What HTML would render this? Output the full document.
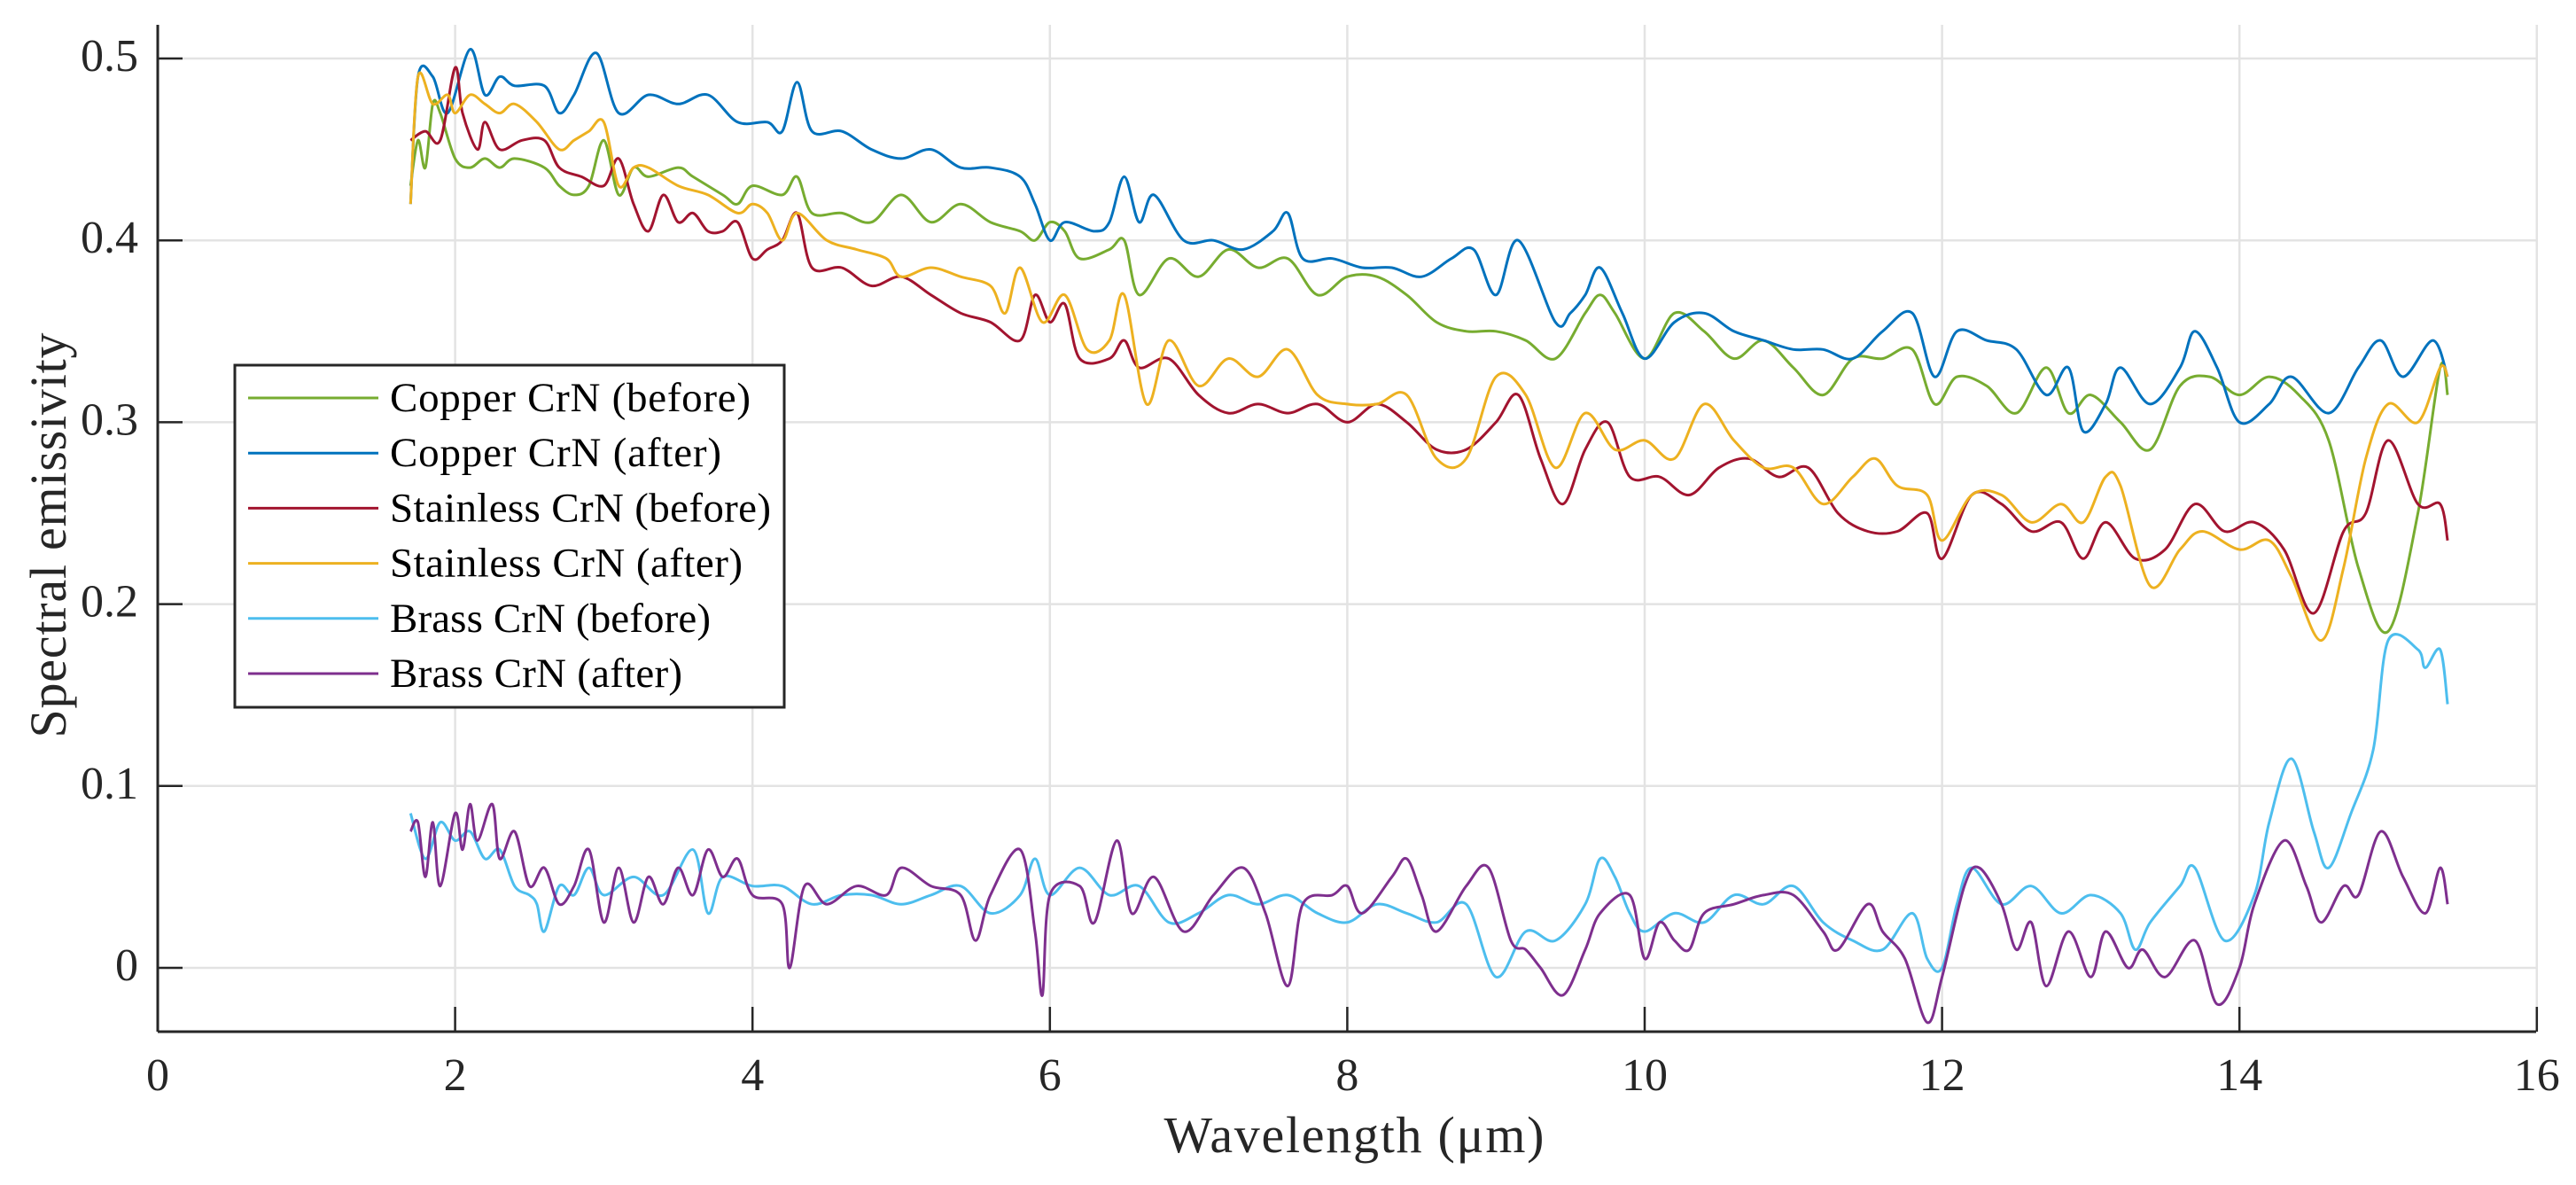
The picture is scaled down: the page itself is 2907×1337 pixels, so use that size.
<!DOCTYPE html>
<html><head><meta charset="utf-8">
<style>
html,body{margin:0;padding:0;background:#fff;}
svg{display:block;font-family:"Liberation Serif",serif;}
</style></head>
<body>
<svg id="chart" width="2907" height="1337" viewBox="0 0 2907 1337" xmlns="http://www.w3.org/2000/svg">
<rect width="2907" height="1337" fill="#fff"/>
<g id="grid"></g>
<g id="series"></g>
<g id="axes"></g>
<text x="1528" y="1300" font-size="58" text-anchor="middle" textLength="429" fill="#262626">Wavelength (μm)</text>
<text transform="translate(74,604) rotate(-90)" font-size="58" text-anchor="middle" textLength="457" fill="#262626">Spectral emissivity</text>
<g id="legend"></g>
</svg>
<script>
const xTicks=[0,2,4,6,8,10,12,14,16];
const yTicks=[0,0.1,0.2,0.3,0.4,0.5];
const yTickLabels=["0","0.1","0.2","0.3","0.4","0.5"];
const seriesNames=["Copper CrN (before)","Copper CrN (after)","Stainless CrN (before)","Stainless CrN (after)","Brass CrN (before)","Brass CrN (after)"];
const seriesColors=["#77AC30","#0072BD","#A2142F","#EDB120","#4DBEEE","#7E2F8E"];

const cuBeforeX=[1.7,1.75,1.8,1.85,1.9,2.0,2.1,2.2,2.3,2.4,2.6,2.7,2.8,2.9,3.0,3.1,3.2,3.3,3.5,3.6,3.8,3.9,4.0,4.2,4.3,4.4,4.6,4.8,5.0,5.2,5.4,5.6,5.8,5.9,6.0,6.1,6.2,6.4,6.5,6.6,6.8,7.0,7.2,7.4,7.6,7.8,8.0,8.2,8.4,8.6,8.8,9.0,9.2,9.4,9.6,9.7,9.8,10.0,10.2,10.4,10.6,10.8,11.0,11.2,11.4,11.6,11.8,11.95,12.1,12.3,12.5,12.7,12.85,13.0,13.2,13.4,13.6,13.8,14.0,14.2,14.4,14.6,14.8,15.0,15.2,15.35,15.4];
const cuBeforeY=[0.43,0.455,0.44,0.475,0.47,0.445,0.44,0.445,0.44,0.445,0.44,0.43,0.425,0.43,0.455,0.425,0.44,0.435,0.44,0.435,0.425,0.42,0.43,0.425,0.435,0.415,0.415,0.41,0.425,0.41,0.42,0.41,0.405,0.40,0.41,0.405,0.39,0.395,0.40,0.37,0.39,0.38,0.395,0.385,0.39,0.37,0.38,0.38,0.37,0.355,0.35,0.35,0.345,0.335,0.36,0.37,0.36,0.335,0.36,0.35,0.335,0.345,0.33,0.315,0.335,0.335,0.34,0.31,0.325,0.32,0.305,0.33,0.305,0.315,0.30,0.285,0.32,0.325,0.315,0.325,0.315,0.29,0.22,0.185,0.25,0.33,0.315];

const cuAfterX=[1.7,1.75,1.85,1.95,2.1,2.2,2.3,2.4,2.6,2.7,2.8,2.95,3.1,3.3,3.5,3.7,3.9,4.1,4.2,4.3,4.4,4.6,4.8,5.0,5.2,5.4,5.6,5.8,5.9,6.0,6.1,6.3,6.4,6.5,6.6,6.7,6.9,7.1,7.3,7.5,7.6,7.7,7.9,8.1,8.3,8.5,8.7,8.85,9.0,9.15,9.4,9.5,9.6,9.7,9.85,10.0,10.2,10.4,10.6,10.8,11.0,11.2,11.4,11.6,11.8,11.95,12.1,12.3,12.5,12.7,12.85,12.95,13.1,13.2,13.4,13.6,13.7,13.85,14.0,14.2,14.35,14.6,14.8,14.95,15.1,15.3,15.4];
const cuAfterY=[0.42,0.49,0.49,0.47,0.505,0.48,0.49,0.485,0.485,0.47,0.48,0.503,0.47,0.48,0.475,0.48,0.465,0.465,0.46,0.487,0.46,0.46,0.45,0.445,0.45,0.44,0.44,0.435,0.42,0.40,0.41,0.405,0.41,0.435,0.41,0.425,0.40,0.40,0.395,0.405,0.415,0.39,0.39,0.385,0.385,0.38,0.39,0.395,0.37,0.40,0.355,0.36,0.37,0.385,0.36,0.335,0.355,0.36,0.35,0.345,0.34,0.34,0.335,0.35,0.36,0.325,0.35,0.345,0.34,0.315,0.33,0.295,0.31,0.33,0.31,0.33,0.35,0.33,0.30,0.31,0.325,0.305,0.33,0.345,0.325,0.345,0.325];

const ssBeforeX=[1.7,1.8,1.9,2.0,2.05,2.15,2.2,2.3,2.45,2.6,2.7,2.85,3.0,3.1,3.2,3.3,3.4,3.5,3.6,3.7,3.8,3.9,4.0,4.1,4.2,4.3,4.4,4.6,4.8,5.0,5.2,5.4,5.6,5.8,5.9,6.0,6.1,6.2,6.4,6.5,6.6,6.8,7.0,7.2,7.4,7.6,7.8,8.0,8.2,8.4,8.6,8.8,9.0,9.15,9.3,9.45,9.6,9.75,9.9,10.1,10.3,10.5,10.7,10.9,11.1,11.3,11.5,11.7,11.9,12.0,12.2,12.4,12.6,12.8,12.95,13.1,13.3,13.5,13.7,13.9,14.1,14.3,14.5,14.7,14.85,15.0,15.2,15.35,15.4];
const ssBeforeY=[0.455,0.46,0.455,0.495,0.47,0.45,0.465,0.45,0.455,0.455,0.44,0.435,0.43,0.445,0.42,0.405,0.425,0.41,0.415,0.405,0.405,0.41,0.39,0.395,0.40,0.415,0.385,0.385,0.375,0.38,0.37,0.36,0.355,0.345,0.37,0.355,0.365,0.335,0.335,0.345,0.33,0.335,0.315,0.305,0.31,0.305,0.31,0.30,0.31,0.30,0.285,0.285,0.30,0.315,0.28,0.255,0.285,0.30,0.27,0.27,0.26,0.275,0.28,0.27,0.275,0.25,0.24,0.24,0.25,0.225,0.26,0.255,0.24,0.245,0.225,0.245,0.225,0.23,0.255,0.24,0.245,0.23,0.195,0.24,0.25,0.29,0.255,0.255,0.235];

const ssAfterX=[1.7,1.75,1.85,1.95,2.0,2.1,2.2,2.3,2.4,2.55,2.7,2.8,2.9,3.0,3.1,3.2,3.3,3.5,3.7,3.9,4.0,4.1,4.2,4.3,4.5,4.7,4.9,5.0,5.2,5.4,5.6,5.7,5.8,5.95,6.1,6.25,6.4,6.5,6.65,6.8,7.0,7.2,7.4,7.6,7.8,8.0,8.2,8.4,8.6,8.8,9.0,9.2,9.4,9.6,9.8,10.0,10.2,10.4,10.6,10.8,11.0,11.2,11.4,11.55,11.7,11.9,12.0,12.2,12.4,12.6,12.8,12.95,13.1,13.2,13.4,13.6,13.75,14.0,14.2,14.35,14.55,14.7,14.85,15.0,15.2,15.35,15.4];
const ssAfterY=[0.42,0.49,0.475,0.48,0.47,0.48,0.475,0.47,0.475,0.465,0.45,0.455,0.46,0.465,0.43,0.44,0.44,0.43,0.425,0.415,0.42,0.415,0.40,0.415,0.40,0.395,0.39,0.38,0.385,0.38,0.375,0.36,0.385,0.355,0.37,0.34,0.345,0.37,0.31,0.345,0.32,0.335,0.325,0.34,0.315,0.31,0.31,0.315,0.28,0.28,0.325,0.315,0.275,0.305,0.285,0.29,0.28,0.31,0.29,0.275,0.275,0.255,0.27,0.28,0.265,0.26,0.235,0.26,0.26,0.245,0.255,0.245,0.27,0.265,0.21,0.23,0.24,0.23,0.235,0.215,0.18,0.22,0.28,0.31,0.30,0.33,0.325];

const brBeforeX=[1.7,1.8,1.9,2.0,2.1,2.2,2.3,2.4,2.5,2.55,2.6,2.7,2.8,2.9,3.0,3.2,3.4,3.6,3.7,3.8,4.0,4.2,4.4,4.6,4.8,5.0,5.2,5.4,5.6,5.8,5.9,6.0,6.2,6.4,6.6,6.8,7.0,7.2,7.4,7.6,7.8,8.0,8.2,8.4,8.6,8.8,9.0,9.2,9.4,9.6,9.7,9.8,9.9,10.0,10.2,10.4,10.6,10.8,11.0,11.2,11.4,11.6,11.8,11.9,12.0,12.1,12.2,12.4,12.6,12.8,13.0,13.2,13.3,13.4,13.6,13.7,13.9,14.1,14.2,14.35,14.5,14.6,14.75,14.9,15.0,15.2,15.25,15.35,15.4];
const brBeforeY=[0.085,0.06,0.08,0.07,0.075,0.06,0.065,0.045,0.04,0.035,0.02,0.045,0.04,0.055,0.04,0.05,0.04,0.065,0.03,0.05,0.045,0.045,0.035,0.04,0.04,0.035,0.04,0.045,0.03,0.04,0.06,0.04,0.055,0.04,0.045,0.025,0.03,0.04,0.035,0.04,0.03,0.025,0.035,0.03,0.025,0.035,-0.005,0.02,0.015,0.035,0.06,0.05,0.03,0.02,0.03,0.025,0.04,0.035,0.045,0.025,0.015,0.01,0.03,0.005,0.0,0.035,0.055,0.035,0.045,0.03,0.04,0.03,0.01,0.025,0.045,0.055,0.015,0.04,0.08,0.115,0.075,0.055,0.085,0.12,0.18,0.175,0.165,0.175,0.145];

const brAfterX=[1.7,1.75,1.8,1.85,1.9,2.0,2.05,2.1,2.15,2.25,2.3,2.4,2.5,2.6,2.7,2.8,2.9,3.0,3.1,3.2,3.3,3.4,3.5,3.6,3.7,3.8,3.9,4.0,4.2,4.25,4.35,4.5,4.7,4.9,5.0,5.2,5.4,5.5,5.6,5.8,5.9,5.95,6.0,6.2,6.3,6.45,6.55,6.7,6.9,7.1,7.3,7.45,7.6,7.7,7.9,8.0,8.1,8.3,8.4,8.5,8.6,8.8,8.95,9.1,9.2,9.3,9.45,9.6,9.7,9.9,10.0,10.1,10.2,10.3,10.4,10.6,10.8,11.0,11.2,11.3,11.5,11.6,11.75,11.9,12.0,12.15,12.25,12.4,12.5,12.6,12.7,12.85,13.0,13.1,13.25,13.35,13.5,13.7,13.85,14.0,14.1,14.3,14.45,14.55,14.7,14.8,14.95,15.1,15.25,15.35,15.4];
const brAfterY=[0.075,0.08,0.05,0.08,0.045,0.085,0.065,0.09,0.07,0.09,0.06,0.075,0.045,0.055,0.035,0.045,0.065,0.025,0.055,0.025,0.05,0.035,0.055,0.04,0.065,0.05,0.06,0.04,0.035,0.0,0.045,0.035,0.045,0.04,0.055,0.045,0.04,0.015,0.04,0.065,0.02,-0.015,0.04,0.045,0.025,0.07,0.03,0.05,0.02,0.04,0.055,0.03,-0.01,0.035,0.04,0.045,0.03,0.05,0.06,0.04,0.02,0.045,0.055,0.015,0.01,0.0,-0.015,0.01,0.03,0.04,0.005,0.025,0.015,0.01,0.03,0.035,0.04,0.04,0.02,0.01,0.035,0.02,0.005,-0.03,-0.005,0.045,0.055,0.035,0.01,0.025,-0.01,0.02,-0.005,0.02,0.0,0.01,-0.005,0.015,-0.02,0.0,0.035,0.07,0.045,0.025,0.045,0.04,0.075,0.05,0.03,0.055,0.035];

const seriesX=[cuBeforeX,cuAfterX,ssBeforeX,ssAfterX,brBeforeX,brAfterX];
const seriesY=[cuBeforeY,cuAfterY,ssBeforeY,ssAfterY,brBeforeY,brAfterY];

const NS="http://www.w3.org/2000/svg";
const X0=178, XS=167.8, Y0=1092, YS=2052;
const PLOT_L=178, PLOT_R=2862, PLOT_T=28, PLOT_B=1164;
function xScale(v){return X0+XS*v;}
function yScale(v){return Y0-YS*v;}
function mk(tag,attrs,parent){const e=document.createElementNS(NS,tag);for(const k in attrs)e.setAttribute(k,attrs[k]);parent.appendChild(e);return e;}

const grid=document.getElementById('grid');
xTicks.forEach(t=>{
  const l=mk('line',{x1:xScale(t),x2:xScale(t),y1:PLOT_T,y2:PLOT_B,stroke:'#e3e3e3','stroke-width':2.5},grid);
  
  
});
yTicks.forEach(t=>{
  const l=mk('line',{x1:PLOT_L,x2:PLOT_R,y1:yScale(t),y2:yScale(t),stroke:'#e3e3e3','stroke-width':2.5},grid);
  
  
});

const axes=document.getElementById('axes');
const xa=mk('line',{x1:PLOT_L,x2:PLOT_R,y1:PLOT_B,y2:PLOT_B,stroke:'#262626','stroke-width':3},axes);


const ya=mk('line',{x1:PLOT_L,x2:PLOT_L,y1:PLOT_T,y2:PLOT_B,stroke:'#262626','stroke-width':3},axes);


xTicks.forEach(t=>{
  const tk=mk('line',{x1:xScale(t),x2:xScale(t),y1:PLOT_B,y2:PLOT_B-28,stroke:'#262626','stroke-width':2.5},axes);
  
  
  const tx=mk('text',{x:xScale(t),y:1230,'font-size':52,'text-anchor':'middle',fill:'#262626'},axes);
  tx.textContent=String(t);
  
  
});
yTicks.forEach((t,i)=>{
  const tk=mk('line',{x1:PLOT_L,x2:PLOT_L+28,y1:yScale(t),y2:yScale(t),stroke:'#262626','stroke-width':2.5},axes);
  
  
  const tx=mk('text',{x:156,y:yScale(t)+14,'font-size':52,'text-anchor':'end',fill:'#262626'},axes);
  tx.textContent=yTickLabels[i];
  
  
});

const sg=document.getElementById('series');
seriesX.forEach((xs,i)=>{
  const ys=seriesY[i];
  const pts=xs.map((x,j)=>[xScale(x),yScale(ys[j])]);
  let d='M'+pts[0][0].toFixed(1)+','+pts[0][1].toFixed(1);
  for(let j=0;j<pts.length-1;j++){
    const p0=pts[j-1]||pts[j],p1=pts[j],p2=pts[j+1],p3=pts[j+2]||p2;
    const c1=[p1[0]+(p2[0]-p0[0])/6,p1[1]+(p2[1]-p0[1])/6];
    const c2=[p2[0]-(p3[0]-p1[0])/6,p2[1]-(p3[1]-p1[1])/6];
    d+='C'+c1[0].toFixed(1)+','+c1[1].toFixed(1)+' '+c2[0].toFixed(1)+','+c2[1].toFixed(1)+' '+p2[0].toFixed(1)+','+p2[1].toFixed(1);
  }
  const p=mk('path',{d:d,fill:'none',stroke:seriesColors[i],'stroke-width':3,'stroke-linejoin':'round'},sg);
  
  
});

const lg=document.getElementById('legend');
const box=mk('rect',{x:265,y:412,width:620,height:386,fill:'#fff',stroke:'#262626','stroke-width':3},lg);


const legendTextWidths=[407,374,430,398,362,330];
seriesNames.forEach((n,i)=>{
  const cy=449+i*62.2;
  const l=mk('line',{x1:280,x2:427,y1:cy,y2:cy,stroke:seriesColors[i],'stroke-width':3},lg);
  
  
  const t=mk('text',{x:440,y:cy+15,'font-size':47,fill:'#000',textLength:legendTextWidths[i]},lg);
  t.textContent=n;
  
  
});
</script>
</body></html>
